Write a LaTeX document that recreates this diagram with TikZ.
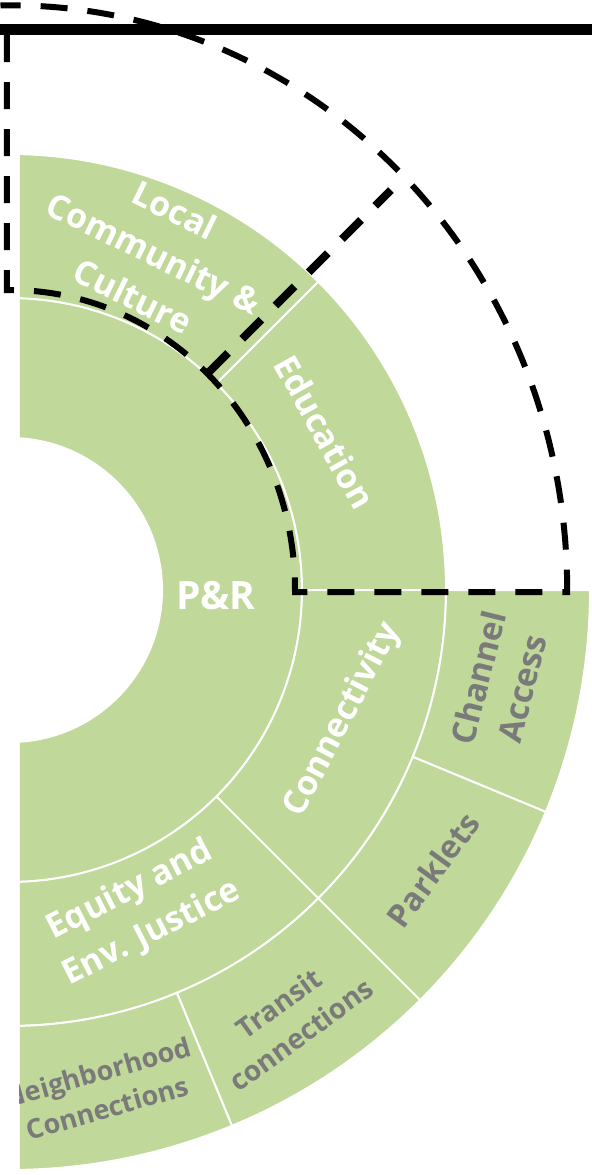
\documentclass[tikz,border=0pt]{standalone}
\usepackage{fontspec}
\setmainfont{Open Sans}
\usepackage{tikz}
\usepackage{xcolor}
\usetikzlibrary{calc}
\definecolor{leafgreen}{HTML}{C0D899}
\definecolor{labelgray}{HTML}{7A7A7A}
\definecolor{ink}{HTML}{000000}
\tikzset{
  ringseg/.style={fill=leafgreen,draw=white,line width=1pt},
  innerlabel/.style={text=white,align=center,inner sep=0pt,
                     font=\fontsize{17}{24}\selectfont\bfseries},
  outerlabel/.style={text=labelgray,align=center,inner sep=0pt,
                     font=\fontsize{16.5}{22.5}\selectfont\bfseries},
  smalllabel/.style={outerlabel,font=\fontsize{13.5}{18.5}\selectfont\bfseries},
  marquee/.style={draw=ink,line width=3pt,dash pattern=on 13.5pt off 10pt},
  topbar/.style={draw=ink,line width=5.5pt}
}

\begin{document}
\begin{tikzpicture}[x=0.5pt,y=0.5pt]
  \useasboundingbox (-10,-585) rectangle (582,590);
  \begin{scope}
    \clip (10,-585) rectangle (582,590);
    \foreach \a/\b/\ri/\ro in {-180/180/152/292,45/180/292/436,0/45/292/436,
                              -45/0/292/436,-180/-45/292/436,-22.5/0/436/580,
                              -45/-22.5/436/580,-67.5/-45/436/580,-120/-67.5/436/580} {
      \draw[ringseg] (\a:\ri) arc[start angle=\a,end angle=\b,radius=\ri]
        -- (\b:\ro) arc[start angle=\b,end angle=\a,radius=\ro] -- cycle;
    }
    \node[smalllabel,rotate=16] (neighbor) at (92,-500) {Neighborhood\\Connections};
  \end{scope}
  \node[innerlabel,font=\fontsize{19.5}{24}\selectfont\bfseries] (pr) at (206,-6) {P\&R};
  \node[innerlabel,rotate=-26] (local) at (144,337) {Local\\Community \&\\Culture};
  \node[innerlabel,rotate=-61] (education) at (315,158) {Education};
  \node[innerlabel,rotate=62.5] (connectivity) at (333,-130) {Connectivity};
  \node[innerlabel,rotate=27] (equity) at (131,-322) {Equity and\\Env. Justice};
  \node[outerlabel,rotate=76] (channel) at (490,-93) {Channel\\Access};
  \node[outerlabel,font=\fontsize{16}{22}\selectfont\bfseries,rotate=54] (parklets) at (423,-280) {Parklets};
  \node[smalllabel,font=\fontsize{14}{19}\selectfont\bfseries,rotate=36] (transit) at (280,-429) {Transit\\connections};
  \coordinate (cornerA) at (-3,555);
  \coordinate (cornerB) at (-3,300);
  \coordinate (spokeIn) at (199,218);
  \coordinate (spokeOut) at (381,400);
  \draw[marquee] (cornerA) -- (cornerB) -- (0,300)
    arc[start angle=90,end angle=0,x radius=285,y radius=300]
    -- (285,-2) -- (557,-2) -- (557,15)
    arc[start angle=1.5,end angle=91,x radius=557,y radius=585];
  \draw[marquee,line width=4pt] (spokeIn) -- (spokeOut);
  \draw[topbar] (-10,561) -- (582,561);
\end{tikzpicture}
\end{document}
